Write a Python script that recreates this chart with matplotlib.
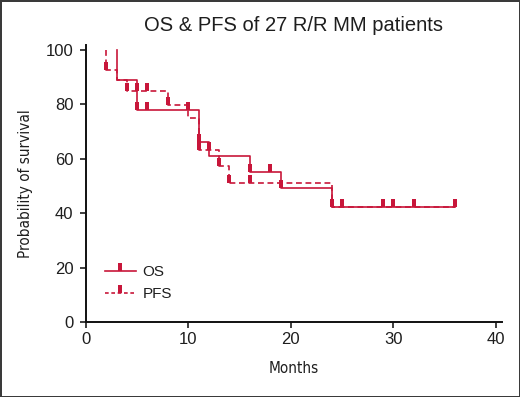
"""
Kaplan-Meier style OS / PFS curves for 27 R/R MM patients.
"""
import numpy as np
import matplotlib
matplotlib.use("Agg")
import matplotlib.pyplot as plt
from matplotlib.lines import Line2D
from matplotlib import font_manager as fm

# ── Data ──────────────────────────────────────────────────────────────────
os_times = [3, 5, 11, 12, 16, 19, 24]
os_surv = [88.9, 77.8, 66.3, 61.1, 55.3, 49.4, 42.2]
os_censor = [5, 6, 10, 11, 16, 18, 19, 24, 25, 29, 30, 32, 36]

pfs_times = [2, 3, 4, 8, 10, 11, 13, 14, 24]
pfs_surv = [92.6, 88.9, 85.0, 79.8, 74.9, 63.3, 57.4, 51.0, 42.2]
pfs_censor = [2, 4, 5, 6, 8, 11, 12, 13, 14, 16]

follow_up_end = 36

x_ticks = [0, 10, 20, 30, 40]
y_ticks = [0, 20, 40, 60, 80, 100]

# ── Style ─────────────────────────────────────────────────────────────────
RED = "#c8163a"
TXT = "#1e1e1e"
plt.rcParams["font.family"] = ["Liberation Sans", "DejaVu Sans"]

# narrow face for the axis labels, if one is around
narrow = fm.FontProperties(family="DejaVu Sans", stretch="condensed")
if "Narrow" in fm.findfont(fm.FontProperties(family="Liberation Sans Narrow"),
                           fallback_to_default=True):
    narrow = fm.FontProperties(family="Liberation Sans Narrow")
narrow.set_size(11)

# censor tick: thin block sitting on top of the curve
CENSOR = [(-0.22, 0), (0.22, 0), (0.22, 1), (-0.22, 1)]


def level_at(times, surv, t):
    idx = np.searchsorted(times, t, side="right") - 1
    return 100 if idx < 0 else surv[idx]


fig = plt.figure(figsize=(5.2, 3.97), dpi=100,
                 edgecolor="#3a3a3a", linewidth=2.0)
ax = fig.add_axes([0.1654, 0.1882, 0.7996, 0.6985])

for times, surv, cens, ls in [(os_times, os_surv, os_censor, "-"),
                              (pfs_times, pfs_surv, pfs_censor, (0, (3.5, 2.2)))]:
    # curve is drawn from the first event on, as in the source figure
    tx = [times[0]] + list(times) + [follow_up_end]
    sy = [100] + list(surv) + [surv[-1]]
    ax.step(tx, sy, where="post", color=RED, lw=1.2, linestyle=ls)
    cy = [level_at(times, surv, t) for t in cens]
    ax.plot(cens, cy, linestyle="none", marker=CENSOR, markersize=11,
            color=RED, markeredgewidth=0)

ax.set_xlim(0, 40.6)
ax.set_ylim(0, 101.8)
ax.set_xticks(x_ticks)
ax.set_yticks(y_ticks)
ax.tick_params(direction="out", length=4, width=1.2, labelsize=12,
               colors=TXT, pad=3)
ax.tick_params(axis="y", pad=5)
for s in ["top", "right"]:
    ax.spines[s].set_visible(False)
for s in ["left", "bottom"]:
    ax.spines[s].set_linewidth(1.4)
    ax.spines[s].set_color("#111111")

ax.set_xlabel("Months", fontproperties=narrow, color=TXT, labelpad=10)
ax.set_ylabel("Probability of survival", fontproperties=narrow,
              color=TXT, labelpad=9)
fig.text(0.565, 0.937, "OS & PFS of 27 R/R MM patients", ha="center",
         va="center", fontsize=14.5, color=TXT)

handles = [
    Line2D([], [], color=RED, lw=1.2, marker=CENSOR, markersize=11,
           markeredgewidth=0),
    Line2D([], [], color=RED, lw=1.2, linestyle=(0, (2.2, 1.6)),
           marker=CENSOR, markersize=11, markeredgewidth=0),
]
ax.legend(handles, ["OS", "PFS"], loc="upper left",
          bbox_to_anchor=(0.046, 0.205), frameon=False, fontsize=11,
          handlelength=2.0, handletextpad=0.45, labelspacing=0.5,
          borderpad=0, borderaxespad=0, numpoints=1,
          labelcolor=TXT)

fig.savefig("out.png", dpi=100, edgecolor=fig.get_edgecolor())
